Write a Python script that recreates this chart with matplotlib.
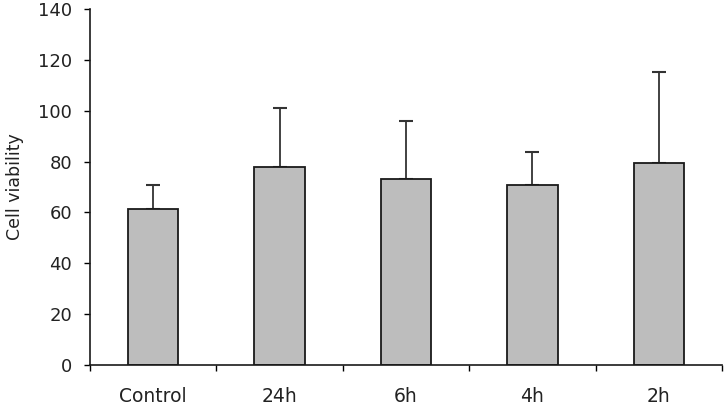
import numpy as np
import matplotlib
matplotlib.use("Agg")
import matplotlib.pyplot as plt

plt.rcParams['font.family'] = ['DejaVu Sans']
plt.rcParams['text.color'] = '#222222'
plt.rcParams['xtick.labelcolor'] = '#222222'
plt.rcParams['ytick.labelcolor'] = '#222222'
plt.rcParams['axes.labelcolor'] = '#222222'

# values
groups = ["Control", "24h", "6h", "4h", "2h"]
viability = [61.2, 77.7, 73.0, 70.8, 79.3]
err_upper = [9.6, 23.5, 22.8, 13.1, 35.9]

fig = plt.figure(figsize=(7.25, 4.09), dpi=100)
ax = fig.add_axes([0.1241, 0.1076, 0.8718, 0.8704])

x = np.arange(len(groups)) + 0.5
ax.bar(x, viability, width=0.4, color="#bdbdbd", edgecolor="#1a1a1a", linewidth=1.3, zorder=2)
ax.errorbar(x, viability, yerr=[np.zeros(len(groups)), err_upper], fmt="none",
            ecolor="#333333", elinewidth=1.3, capsize=5, capthick=1.5, zorder=1)

ax.set_xlim(0, len(groups))
ax.set_ylim(0, 140)
ax.set_yticks(np.arange(0, 141, 20))
ax.set_ylabel("Cell viability", fontsize=12.5, labelpad=10)

# ticks between categories, labels centred under the bars
ax.set_xticks(np.arange(0, len(groups) + 1))
ax.set_xticklabels([])
ax.set_xticks(x, minor=True)
ax.set_xticklabels(groups, minor=True, fontsize=13.5)
ax.tick_params(axis="x", which="major", direction="out", length=4, width=1)
ax.tick_params(axis="x", which="minor", length=0, pad=16)
ax.tick_params(axis="y", direction="out", length=4.3, width=1, labelsize=13, pad=8.5)

for side in ("top", "right"):
    ax.spines[side].set_visible(False)
for side in ("left", "bottom"):
    ax.spines[side].set_linewidth(1.2)
    ax.spines[side].set_color("#1a1a1a")

fig.savefig("out.png", dpi=100)
